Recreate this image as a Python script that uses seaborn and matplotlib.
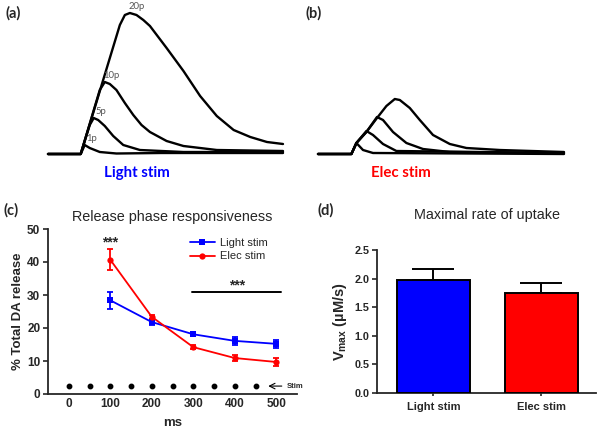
import numpy as np
import pandas as pd
import matplotlib
matplotlib.use("Agg")
import matplotlib.pyplot as plt
import seaborn as sns

# ---- panel (a): light-evoked traces (time in s, [DA] in arbitrary units) ----
light_1p_t = [-1.63, 0.0, 0.20, 0.45, 0.95, 1.78, 4.0, 10.08]
light_1p_y = [0.0, 0.0, 0.09, 0.06, 0.02, 0.005, 0.01, 0.01]
light_5p_t = [-1.63, 0.0, 0.45, 0.65, 0.87, 1.20, 1.62, 2.12, 2.95, 5.12, 10.08]
light_5p_y = [0.0, 0.0, 0.29, 0.36, 0.34, 0.28, 0.18, 0.09, 0.04, 0.02, 0.02]
light_10p_t = [-1.63, 0.0, 0.95, 1.20, 1.45, 1.78, 2.20, 2.62, 3.03, 3.45, 4.28, 5.12, 6.78, 10.08]
light_10p_y = [0.0, 0.0, 0.64, 0.72, 0.70, 0.64, 0.51, 0.39, 0.29, 0.22, 0.13, 0.08, 0.04, 0.03]
light_20p_t = [-1.63, 0.0, 1.95, 2.20, 2.45, 2.78, 3.12, 3.45, 4.28, 5.12, 5.95, 6.78, 7.62, 8.45, 9.28, 10.08]
light_20p_y = [0.0, 0.0, 1.29, 1.39, 1.41, 1.39, 1.34, 1.28, 1.06, 0.83, 0.58, 0.38, 0.24, 0.17, 0.12, 0.10]
pulse_labels = ["1p", "5p", "10p", "20p"]

# ---- panel (b): electrically evoked traces ----
elec_1p_t = [-1.67, 0.0, 0.25, 0.58, 1.08, 10.63]
elec_1p_y = [0.0, 0.0, 0.11, 0.04, 0.01, 0.0]
elec_5p_t = [-1.67, 0.0, 0.25, 0.75, 1.08, 1.58, 2.25, 10.63]
elec_5p_y = [0.0, 0.0, 0.11, 0.23, 0.19, 0.10, 0.03, 0.01]
elec_10p_t = [-1.67, 0.0, 0.25, 0.75, 1.28, 1.58, 2.08, 2.75, 3.58, 4.92, 10.63]
elec_10p_y = [0.0, 0.0, 0.11, 0.22, 0.37, 0.34, 0.22, 0.11, 0.05, 0.02, 0.01]
elec_20p_t = [-1.67, 0.0, 0.25, 0.75, 1.28, 1.75, 2.17, 2.42, 2.92, 3.42, 4.08, 4.92, 5.75, 7.42, 10.63]
elec_20p_y = [0.0, 0.0, 0.11, 0.22, 0.36, 0.48, 0.55, 0.54, 0.46, 0.34, 0.19, 0.10, 0.06, 0.04, 0.02]

# ---- panel (c): release phase responsiveness ----
time_ms = [100, 200, 300, 400, 500]
light_pct = [28.4, 21.8, 18.1, 16.1, 15.2]
light_sem = [2.6, 1.0, 0.6, 1.1, 1.3]
elec_pct = [40.7, 23.4, 14.2, 10.9, 9.7]
elec_sem = [3.2, 0.6, 0.5, 0.9, 1.3]
stim_times = [0, 50, 100, 150, 200, 250, 300, 350, 400, 450]

# ---- panel (d): Vmax ----
conditions = ["Light stim", "Elec stim"]
vmax = [1.97, 1.75]
vmax_sem = [0.19, 0.18]

BLUE = "#0000ff"
RED = "#ff0000"
LABEL_FONT = ["Lato", "DejaVu Sans"]

sns.set_style("ticks")
plt.rcParams['font.family'] = ['Liberation Sans', 'DejaVu Sans']
plt.rcParams['mathtext.fontset'] = 'custom'
plt.rcParams['mathtext.bf'] = 'Liberation Sans:bold'
plt.rcParams['mathtext.rm'] = 'Liberation Sans'

W, H = 600, 437
fig = plt.figure(figsize=(6, 4.37), dpi=100)


def box(x0, y0, x1, y1):
    # pixel box (top-left origin) -> figure fraction
    return [x0 / W, 1 - y1 / H, (x1 - x0) / W, (y1 - y0) / H]


def traces(ax, sets):
    for t, y in sets:
        d = pd.DataFrame({"t": t, "y": y})
        sns.lineplot(data=d, x="t", y="y", ax=ax, color="black", lw=1.7,
                     sort=False, estimator=None, clip_on=False)
    ax.set_axis_off()


# (a)
ax_a = fig.add_axes(box(48, 14, 283, 154))
light_sets = [(light_1p_t, light_1p_y), (light_5p_t, light_5p_y),
              (light_10p_t, light_10p_y), (light_20p_t, light_20p_y)]
traces(ax_a, light_sets)
ax_a.set_xlim(-1.63, 10.08)
ax_a.set_ylim(0, 1.40)
for lab, (t, y) in zip(pulse_labels, light_sets):
    i = int(np.argmax(y))
    ax_a.annotate(lab, (t[i], y[i]), xytext=(5, 4.5), textcoords="offset points",
                  fontsize=6.8, color="#555555", ha="center", va="center",
                  family=LABEL_FONT, annotation_clip=False)

# (b)
ax_b = fig.add_axes(box(318, 14, 564, 154))
traces(ax_b, [(elec_1p_t, elec_1p_y), (elec_5p_t, elec_5p_y),
              (elec_10p_t, elec_10p_y), (elec_20p_t, elec_20p_y)])
ax_b.set_xlim(-1.67, 10.63)
ax_b.set_ylim(0, 1.40)

fig.text(5 / W, 1 - 13 / H, "(a)", fontsize=10.5, fontweight="bold", va="center",
         family=LABEL_FONT)
fig.text(305 / W, 1 - 13 / H, "(b)", fontsize=10.5, fontweight="bold", va="center",
         family=LABEL_FONT)
fig.text(137 / W, 1 - 173 / H, "Light stim", fontsize=10.8, fontweight="bold",
         color=BLUE, ha="center", va="center", family=LABEL_FONT)
fig.text(401 / W, 1 - 173 / H, "Elec stim", fontsize=10.8, fontweight="bold",
         color=RED, ha="center", va="center", family=LABEL_FONT)

# (c)
ax_c = fig.add_axes(box(48, 229, 297, 394))
df_c = pd.DataFrame({"ms": time_ms * 2,
                     "pct": light_pct + elec_pct,
                     "cond": ["Light stim"] * 5 + ["Elec stim"] * 5})
sns.lineplot(data=df_c, x="ms", y="pct", hue="cond", style="cond",
             palette={"Light stim": BLUE, "Elec stim": RED},
             markers={"Light stim": "s", "Elec stim": "o"}, dashes=False,
             markersize=4.5, markeredgewidth=0, lw=1.3, ax=ax_c, zorder=3)
ax_c.errorbar(time_ms, light_pct, yerr=light_sem, fmt="none", ecolor=BLUE,
              elinewidth=1.3, capsize=2.5, capthick=1.3, zorder=2)
ax_c.errorbar(time_ms, elec_pct, yerr=elec_sem, fmt="none", ecolor=RED,
              elinewidth=1.3, capsize=2.5, capthick=1.3, zorder=2)
ax_c.plot(stim_times, [2.4] * len(stim_times), "o", color="black", ms=3.2)
ax_c.annotate("", xy=(474, 2.4), xytext=(520, 2.4),
              arrowprops=dict(arrowstyle="->", lw=0.8, color="black"),
              annotation_clip=False)
ax_c.text(526, 2.4, "Stim", fontsize=5.5, fontweight="bold", va="center",
          ha="left", clip_on=False)
ax_c.text(100, 46.0, "***", fontsize=10, fontweight="bold", ha="center", va="center")
ax_c.plot([298, 512], [30.8, 30.8], color="black", lw=1.4)
ax_c.text(405, 32.8, "***", fontsize=10, fontweight="bold", ha="center", va="center")
ax_c.set_xlim(-50, 550)
ax_c.set_ylim(0, 50)
ax_c.set_xticks([0, 100, 200, 300, 400, 500])
ax_c.set_yticks([0, 10, 20, 30, 40, 50])
ax_c.set_xlabel("ms", fontsize=9.5, fontweight="bold", labelpad=5)
ax_c.set_ylabel("% Total DA release", fontsize=9.5, fontweight="bold", labelpad=2)
ax_c.set_title("Release phase responsiveness", fontsize=10.4, pad=6)
ax_c.tick_params(axis="x", length=0, pad=3, labelsize=8.5, width=1.2)
ax_c.tick_params(axis="y", length=3.5, pad=2, labelsize=8.5, width=1.2)
for lbl in ax_c.get_xticklabels() + ax_c.get_yticklabels():
    lbl.set_fontweight("bold")
leg = ax_c.legend(loc="upper right", bbox_to_anchor=(0.91, 0.985), frameon=False,
                  fontsize=8, handlelength=2.2, handletextpad=0.5,
                  labelspacing=0.3, borderaxespad=0.2)
sns.despine(ax=ax_c)
for s in ["left", "bottom"]:
    ax_c.spines[s].set_linewidth(1.3)
fig.text(4 / W, 1 - 210 / H, "(c)", fontsize=10.5, fontweight="bold", va="center",
         family=LABEL_FONT)

# (d)
ax_d = fig.add_axes(box(377, 250, 596, 393))
sns.barplot(x=conditions, y=vmax, hue=conditions, palette=[BLUE, RED],
            saturation=1, edgecolor="black", linewidth=1.4, width=0.68,
            legend=False, ax=ax_d, zorder=3)
ax_d.errorbar([0, 1], vmax, yerr=[[0, 0], vmax_sem], fmt="none", ecolor="black",
              elinewidth=1.4, capsize=15, capthick=1.4, zorder=2)
ax_d.set_xlim(-0.525, 1.51)
ax_d.set_ylim(0, 2.5)
ax_d.set_yticks([0, 0.5, 1.0, 1.5, 2.0, 2.5])
ax_d.set_yticklabels(["0.0", "0.5", "1.0", "1.5", "2.0", "2.5"])
ax_d.set_ylabel(r"$\mathbf{V_{max}}$ (µM/s)", fontsize=10.5, fontweight="bold",
                labelpad=4)
ax_d.set_xlabel("")
ax_d.set_title("Maximal rate of uptake", fontsize=10.4, pad=22)
ax_d.tick_params(axis="x", length=2.5, pad=4, labelsize=8, width=1.2)
ax_d.tick_params(axis="y", length=3.5, pad=2, labelsize=7.8, width=1.2)
for lbl in ax_d.get_xticklabels() + ax_d.get_yticklabels():
    lbl.set_fontweight("bold")
sns.despine(ax=ax_d)
for s in ["left", "bottom"]:
    ax_d.spines[s].set_linewidth(1.3)
fig.text(318 / W, 1 - 210 / H, "(d)", fontsize=10.5, fontweight="bold", va="center",
         family=LABEL_FONT)

fig.savefig("out.png", dpi=100)
